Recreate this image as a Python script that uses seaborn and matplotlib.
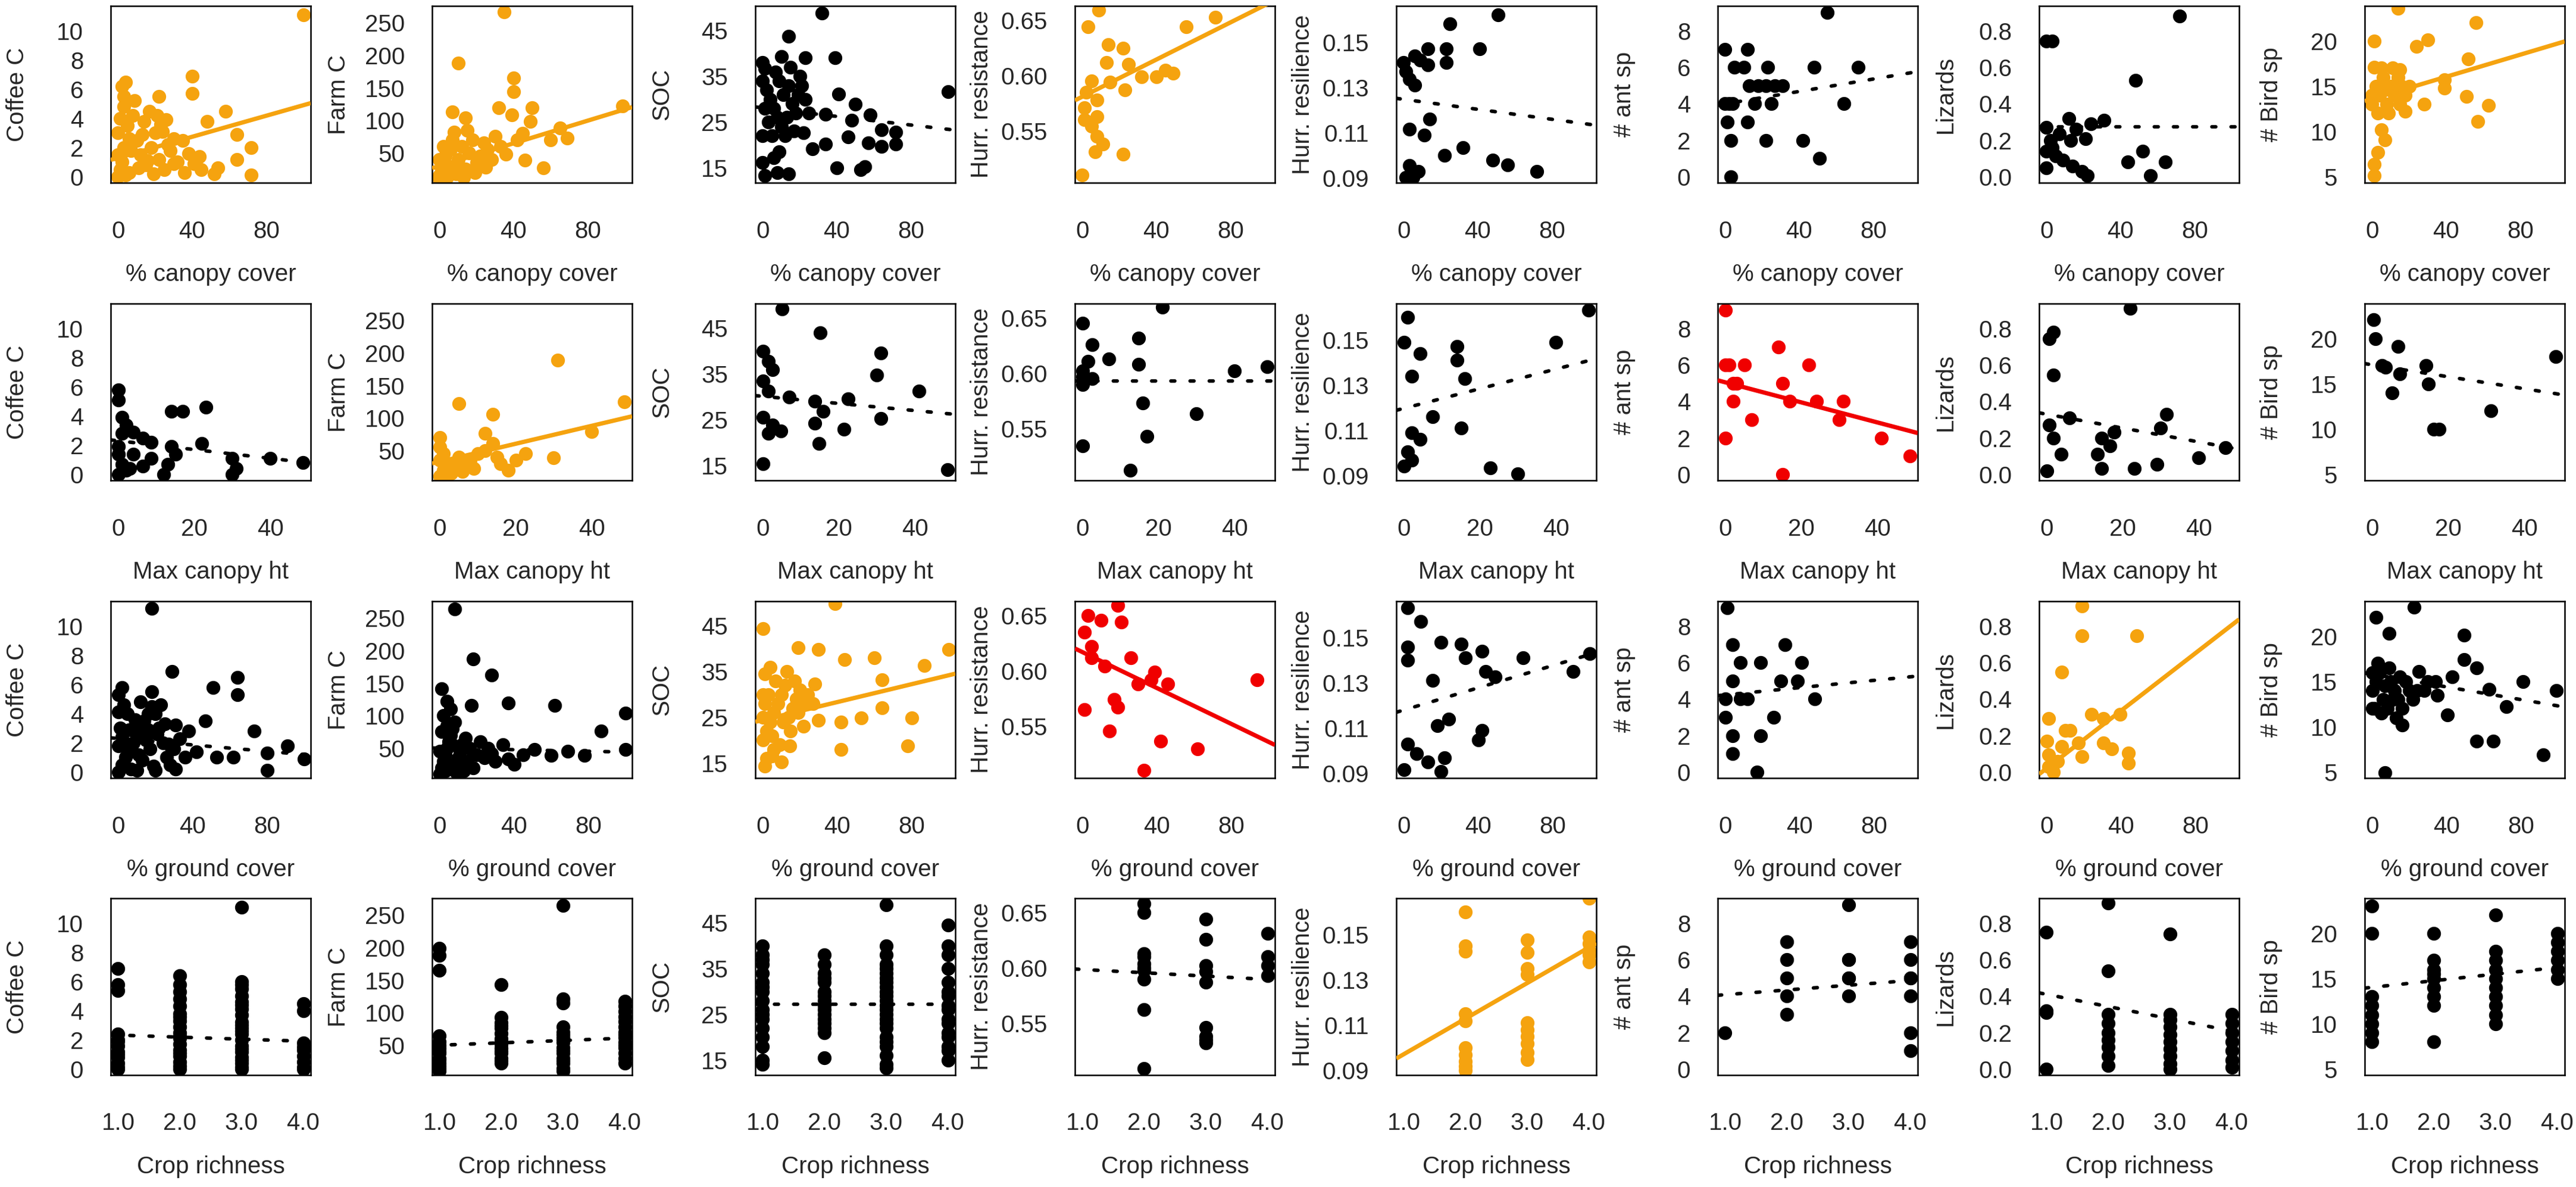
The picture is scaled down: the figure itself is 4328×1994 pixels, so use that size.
import numpy as np
import pandas as pd
import matplotlib
matplotlib.use('Agg')
import matplotlib.pyplot as plt
import seaborn as sns

sns.set_style('white')
plt.rcParams['font.family'] = ['Liberation Sans', 'DejaVu Sans']

# ---- data: (x, y) per panel ----
# row 1: % canopy cover
coffee_canopy = [(100, 11.1), (4, 6.5), (3, 5.5), (22, 5.5), (40, 6.9), (40, 5.7), (58, 4.5), (48, 3.8), (64, 2.9),
                 (72, 2.0), (64, 1.2), (72, 0.1), (52, 0.2), (54, 0.6), (41, 0.9), (35, 2.5), (26, 3.9), (24, 3.1),
                 (0, 0), (1, 0.5), (2, 1), (3, 2), (0, 3), (1, 4), (5, 3.5), (8, 4.2), (10, 2.5), (12, 1.5), (15, 0.8),
                 (6, 0.3), (18, 2), (20, 3), (22, 1.2), (25, 0.5), (28, 1.8), (30, 2.6), (14, 3.8), (17, 4.5), (9, 5.2),
                 (2, 6.2), (0, 1.5), (4, 0.1), (7, 1.8), (11, 0.6), (13, 2.9), (19, 0.2), (23, 3.6), (27, 2.2), (32, 1.0),
                 (36, 0.3), (44, 1.4), (45, 0.5), (16, 1.1), (3, 4.8), (6, 2.6), (21, 4.2), (30, 0.9), (38, 1.6)]
farm_canopy = [(35, 267), (10, 188), (40, 165), (40, 144), (32, 119), (50, 119), (7, 113), (14, 104), (39, 108),
               (49, 98), (8, 82), (56, 27), (46, 39), (60, 70), (69, 73), (99, 122), (65, 88),
               (0, 15), (1, 25), (2, 35), (3, 45), (5, 20), (6, 55), (8, 30), (10, 40), (12, 60), (14, 25), (16, 50),
               (18, 70), (20, 35), (22, 45), (24, 65), (26, 55), (28, 40), (30, 75), (0, 10), (4, 12), (9, 18),
               (13, 12), (19, 20), (25, 28), (33, 60), (36, 48), (42, 70), (45, 80), (15, 85), (2, 60), (0, 40), (7, 70)]
soc_canopy = [(32, 48.9), (14, 43.7), (39, 39.1), (23, 39.1), (10, 39.3), (1, 36.7), (100, 31.7), (41, 31.1),
              (50, 28.9), (58, 26.5), (34, 26.7), (48, 25.4), (64, 23.3), (72, 22.8), (72, 20.2), (64, 19.6),
              (57, 20.4), (46, 21.7), (34, 20.2), (27, 19.1), (22, 22.6), (40, 15.0), (53, 14.6), (55, 15.2),
              (14, 13.7), (8, 13.9), (1, 13.3), (0, 16.1), (6, 17.2), (9, 18.5),
              (0, 34), (2, 32), (4, 30), (6, 28), (8, 26), (10, 24), (12, 22), (14, 33), (16, 29), (18, 27), (20, 35),
              (3, 25), (5, 22), (7, 36), (11, 31), (15, 37), (19, 31), (23, 30), (1, 28), (9, 34), (13, 26), (17, 23),
              (21, 33), (25, 27), (0, 22), (0, 38)]
resist_canopy = [(9, 0.659), (3, 0.644), (56, 0.644), (72, 0.653), (14, 0.628), (22, 0.625), (13, 0.612), (25, 0.610),
                 (5, 0.595), (32, 0.599), (45, 0.605), (49, 0.602), (23, 0.587), (2, 0.585), (8, 0.578), (1, 0.571),
                 (8, 0.563), (8, 0.545), (11, 0.538), (22, 0.529), (7, 0.531), (0, 0.510), (1, 0.560), (5, 0.554),
                 (15, 0.594), (40, 0.599)]
resil_canopy = [(51, 0.162), (25, 0.158), (41, 0.147), (23, 0.147), (23, 0.141), (13, 0.147), (13, 0.140), (6, 0.144),
                (0, 0.141), (1, 0.137), (3, 0.1336), (6, 0.131), (9, 0.142), (14, 0.116), (11, 0.109), (3, 0.1116),
                (22, 0.100), (32, 0.1036), (48, 0.098), (56, 0.096), (72, 0.093), (3, 0.0957), (8, 0.093),
                (1, 0.0904), (5, 0.0904)]
ants_canopy = [(55, 9), (0, 7), (12, 7), (5, 6), (10, 6), (23, 6), (48, 6), (72, 6), (13, 5), (22, 5), (31, 5),
               (0, 4), (4, 4), (16, 4), (25, 4), (64, 4), (1, 3), (12, 3), (3, 2), (22, 2), (42, 2), (51, 1), (3, 0),
               (2, 4), (18, 5), (27, 5)]
lizards_canopy = [(72, 0.88), (0, 0.745), (3, 0.745), (48, 0.53), (12, 0.32), (31, 0.31), (24, 0.29), (13, 0.20),
                  (21, 0.21), (0, 0.27), (2, 0.20), (0, 0.14), (0, 0.05), (9, 0.09), (14, 0.06), (19, 0.03),
                  (22, 0.005), (52, 0.14), (44, 0.08), (64, 0.08), (56, 0.005), (5, 0.115), (16, 0.26), (3, 0.16),
                  (7, 0.235)]
birds_canopy = [(14, 23.6), (56, 22), (1, 20), (24, 19.4), (30, 20.1), (52, 18), (1, 17.1), (15, 16.8), (39, 15.7),
                (39, 14.8), (51, 13.9), (28, 13.0), (63, 12.9), (57, 11.1), (18, 12.2), (5, 10.2), (7, 9.1), (3, 7.7),
                (1, 5.1), (1, 6.4),
                (2, 15), (4, 14), (6, 16), (8, 13), (10, 15), (12, 14), (14, 16), (16, 15), (3, 12), (5, 17), (9, 12),
                (11, 17), (0, 13), (0, 14), (7, 15), (15, 13), (18, 14), (20, 15)]

# row 2: max canopy height
coffee_maxht = [(0, 5.8), (0, 5.1), (1, 3.9), (2, 3.4), (1, 2.8), (4, 2.9), (6.5, 2.5), (8.6, 2.2), (14, 4.3),
                (17, 4.3), (23, 4.6), (14, 1.9), (15, 1.4), (22, 2.1), (12, 0), (13, 0.7), (30, 1.1), (30, 0),
                (31, 0.4), (40, 1.1), (48.5, 0.8), (0, 1.4), (1, 0.7), (3, 0.4), (6.5, 0.55), (4, 1.4), (0, 1.9),
                (2, 0.3), (0, 0), (8.6, 1.1)]
farm_maxht = [(31, 189), (5, 122), (14, 106), (40, 79), (48.5, 125), (22.5, 45), (30, 39), (16, 30), (14, 61),
              (12, 76), (0, 10), (1, 20), (2, 30), (3, 15), (4, 25), (5, 40), (6, 18), (8, 35), (9, 22), (10, 45),
              (0, 55), (1, 45), (2, 12), (0, 35), (7, 28), (12, 50), (15, 40), (18, 20), (20, 35), (0, 70)]
soc_maxht = [(5, 49.2), (15, 44), (31, 39.6), (30, 34.7), (41, 31.2), (48.5, 14.1), (0, 40), (1.5, 37.8), (2.6, 36),
             (0, 33.4), (1.5, 31.2), (7, 29.9), (13.6, 29), (22.4, 29.5), (31, 25.3), (15.8, 26.8), (13.6, 24.2),
             (14.7, 19.8), (21.3, 22.9), (0, 25.5), (2.6, 23.8), (1.5, 22), (0, 15.4), (4.8, 22.5)]
resist_maxht = [(21, 0.660), (0, 0.645), (14.7, 0.632), (2.6, 0.626), (7, 0.613), (1.5, 0.611), (14.7, 0.608),
                (0, 0.602), (2.6, 0.595), (0, 0.590), (0, 0.597), (40, 0.602), (48.5, 0.606), (15.8, 0.573),
                (30, 0.5635), (17, 0.543), (0, 0.534), (12.5, 0.512)]
resil_maxht = [(48.5, 0.163), (1, 0.160), (0, 0.149), (4.3, 0.144), (14, 0.147), (14, 0.141), (16, 0.133), (2, 0.134),
               (40, 0.149), (7.6, 0.116), (15, 0.111), (2, 0.109), (4.3, 0.106), (1, 0.1005), (2, 0.097),
               (0, 0.0944), (22.7, 0.0935), (30, 0.091)]
ants_maxht = [(0, 9), (14, 7), (0, 6), (5, 6), (22, 6), (2, 5), (15, 5), (2, 4), (17, 4), (31, 4), (7, 3), (30, 3),
              (0, 2), (41, 2), (48.5, 1), (15, 0), (24, 4), (3, 5), (1, 6)]
lizards_maxht = [(22, 0.91), (1.7, 0.78), (0.6, 0.745), (1.7, 0.545), (6, 0.31), (0.6, 0.27), (1.7, 0.2),
                 (3.8, 0.11), (0, 0.02), (14.5, 0.2), (16.6, 0.155), (13.4, 0.11), (14.5, 0.033), (31.5, 0.33),
                 (30, 0.255), (23, 0.033), (29, 0.055), (40, 0.09), (47, 0.145), (17.7, 0.233)]
birds_maxht = [(0.3, 22.1), (0.8, 20), (6.7, 19.1), (2.6, 17), (7.2, 16.1), (5.2, 14), (14.2, 17), (14.7, 15),
               (16.2, 10), (17.5, 10), (31.2, 12), (48.2, 18), (3.5, 16.8)]

# row 3: % ground cover
coffee_ground = [(18, 11.2), (29, 6.9), (18, 5.5), (64, 6.5), (64, 5.3), (51, 5.8), (2, 5.8), (0, 5.3), (47, 3.5),
                 (31, 3.2), (38, 2.8), (73, 2.8), (91, 1.8), (80, 1.3), (100, 0.9), (53, 1.0), (62, 1.0), (42, 1.4),
                 (80, 0.14), (31, 0.2),
                 (0, 0), (2, 0.5), (4, 1), (6, 1.5), (8, 2), (10, 2.5), (12, 3), (14, 3.5), (16, 4), (18, 4.5), (20, 4),
                 (22, 3), (24, 2), (26, 1), (28, 0.5), (1, 3), (3, 2), (5, 4), (7, 0.2), (9, 3.6), (11, 1.2), (13, 0.8),
                 (15, 2.2), (17, 1.6), (19, 0.4), (21, 2.6), (23, 4.6), (25, 3.3), (27, 1.9), (0, 1.8), (0, 4.1),
                 (3, 4.6), (6, 2.9), (12, 4.8), (20, 0.1), (30, 1.6), (33, 2.3), (36, 1.0), (2, 2.4), (10, 0.1), (16, 2.9)]
farm_ground = [(8, 264), (18, 187), (28, 162), (37, 119), (62, 116), (17, 116), (1, 141), (100, 104), (87, 76),
               (4, 122), (100, 48), (69, 45), (78, 39), (51, 48), (60, 39), (37, 33), (28, 42),
               (0, 10), (1, 20), (2, 30), (3, 40), (4, 50), (5, 60), (6, 70), (7, 80), (8, 90), (9, 25), (10, 35),
               (11, 45), (12, 55), (13, 15), (14, 65), (15, 30), (16, 50), (18, 20), (20, 40), (22, 60), (24, 35),
               (0, 45), (1, 75), (2, 100), (3, 15), (5, 25), (7, 55), (9, 12), (12, 30), (6, 110), (4, 85), (26, 50),
               (30, 30), (34, 55), (40, 25), (45, 40)]
soc_ground = [(39, 49.9), (0, 44.4), (19, 40.2), (30, 39.8), (60, 38), (44, 37.6), (100, 39.8), (87, 36.3),
              (64, 33.2), (1, 34.5), (28, 32.3), (80, 24.9), (64, 27.1), (53, 24.9), (42, 24), (30, 24.4), (42, 17.9),
              (78, 18.7), (14.5, 18.7), (10, 15.2), (1, 14.3), (5, 16.5),
              (0, 20), (2, 22), (4, 24), (6, 26), (8, 28), (10, 30), (12, 32), (14, 25), (16, 27), (18, 29), (20, 31),
              (22, 23), (1, 28), (3, 30), (5, 21), (7, 33), (9, 19), (11, 24), (13, 35), (15, 22), (17, 33), (19, 26),
              (21, 28), (24, 30), (0, 25), (0, 30), (6, 18), (2, 16), (4, 36), (27, 28)]
resist_ground = [(19, 0.659), (10, 0.6455), (21, 0.644), (3, 0.65), (1, 0.635), (5, 0.622), (5, 0.6116), (12, 0.6045),
                 (26, 0.6116), (39, 0.599), (46, 0.588), (37, 0.592), (30, 0.588), (17, 0.574), (19, 0.567),
                 (1, 0.565), (94, 0.592), (14.5, 0.5455), (42, 0.5366), (62, 0.5295), (33, 0.51)]
resil_ground = [(2, 0.163), (9, 0.157), (2, 0.1457), (2, 0.140), (20, 0.148), (31, 0.147), (33, 0.141), (42, 0.144),
                (44, 0.135), (49, 0.1326), (64, 0.141), (91, 0.135), (100, 0.143), (15.5, 0.131), (24, 0.114),
                (18, 0.111), (42, 0.109), (40, 0.1048), (2, 0.103), (7, 0.0987), (13, 0.0952), (22, 0.097),
                (0, 0.0917), (20, 0.0909)]
ants_ground = [(1, 9), (4, 7), (32, 7), (8, 6), (19, 6), (41, 6), (4, 5), (30, 5), (39, 5), (0, 4), (8, 4), (12, 4),
               (48, 4), (26, 3), (0, 3), (4, 2), (19, 2), (4, 1), (17, 0)]
lizards_ground = [(19, 0.91), (19, 0.746), (48.5, 0.746), (8, 0.547), (1, 0.293), (10, 0.227), (24, 0.315),
                  (30.5, 0.293), (39.5, 0.315), (0, 0.17), (17, 0.16), (30.5, 0.16), (35, 0.127), (44, 0.105),
                  (19, 0.083), (44, 0.05), (1, 0.028), (6, 0.06), (1, 0.094), (12.6, 0.227), (3.6, 0), (8, 0.14)]
birds_ground = [(22.5, 23.2), (2, 22.1), (9, 20.3), (49.5, 20.1), (49.5, 17.4), (56, 16.5), (25, 16.1), (34, 15),
                (43, 15.5), (63, 14.1), (81, 15), (99, 14), (72, 12.2), (40.5, 11.3), (16, 10.2), (56, 8.4), (65, 8.4),
                (92, 6.9), (7, 4.9),
                (0, 14), (2, 15), (4, 16), (6, 13), (8, 12), (10, 15), (12, 14), (14, 13), (16, 12), (18, 15), (20, 14),
                (1, 12), (3, 17), (5, 11.5), (7, 14.5), (9, 16.5), (11, 13), (13, 11), (15, 15.5), (22, 13), (24, 14),
                (0, 16), (0, 12), (28, 14), (30, 15), (35, 13.5)]

# row 4: crop richness (values per richness level)
coffee_crop = {1: [6.9, 5.8, 5.4, 2.4, 2.0, 1.6, 1.2, 0.8, 0.4, 0.1, 0.0, 1.0, 1.9],
               2: [6.4, 5.8, 5.3, 4.8, 4.3, 3.8, 3.3, 2.9, 2.5, 2.1, 1.7, 1.3, 0.9, 0.5, 0.2, 0.0, 3.6, 2.3, 1.1],
               3: [11.1, 6.0, 5.5, 5.0, 4.6, 4.1, 3.7, 3.2, 2.8, 2.4, 2.0, 1.6, 1.2, 0.8, 0.4, 0.1, 0.0, 5.8, 3.0,
                   1.4, 0.6, 2.6, 4.4],
               4: [4.5, 4.0, 1.8, 1.3, 0.9, 0.5, 0.1, 0.0, 1.5]}
farm_crop = {1: [199, 188, 165, 64, 55, 45, 38, 30, 22, 14, 50, 40, 28, 18, 10],
             2: [143, 93, 85, 76, 68, 60, 52, 45, 38, 30, 22, 80, 56, 41, 26],
             3: [265, 115, 121, 78, 70, 62, 54, 46, 38, 30, 22, 14, 10, 58, 42, 26, 66],
             4: [118, 110, 102, 94, 86, 78, 70, 62, 54, 46, 38, 30, 22, 66, 50]}
soc_crop = {1: [40, 38, 36, 34, 32, 30, 28, 26, 24, 22, 20, 18, 15, 14, 37, 31, 25],
            2: [38, 36, 34, 32, 30, 28, 26, 24, 22, 21, 15.5, 29, 27, 25, 23, 33],
            3: [49, 40, 38, 36, 34, 32, 30, 28, 26, 24, 22, 20, 18, 16, 14, 13.3, 35, 31, 27, 23, 19, 29, 25, 33],
            4: [44.5, 40, 38, 35, 32, 29, 26, 23, 20, 17, 15, 30, 27, 24, 21, 18]}
resist_crop = {2: [0.658, 0.65, 0.613, 0.604, 0.598, 0.59, 0.562, 0.509, 0.61, 0.6],
               3: [0.644, 0.626, 0.602, 0.597, 0.587, 0.546, 0.538, 0.535, 0.532],
               4: [0.631, 0.61, 0.602, 0.593]}
resil_crop = {2: [0.16, 0.145, 0.1425, 0.115, 0.1, 0.097, 0.094, 0.092, 0.09, 0.112],
              3: [0.1475, 0.142, 0.135, 0.1325, 0.111, 0.108, 0.105, 0.0948, 0.1018, 0.098],
              4: [0.166, 0.149, 0.146, 0.143, 0.141, 0.138]}
ants_crop = {1: [2], 2: [7, 6, 4, 3, 5], 3: [9, 6, 5, 5, 4, 6], 4: [7, 6, 5, 4, 2, 1, 5]}
lizards_crop = {1: [0.75, 0.32, 0.0, 0.31],
                2: [0.91, 0.54, 0.3, 0.25, 0.2, 0.16, 0.12, 0.07, 0.02],
                3: [0.74, 0.3, 0.27, 0.23, 0.19, 0.15, 0.11, 0.07, 0.03, 0.0],
                4: [0.3, 0.25, 0.2, 0.15, 0.1, 0.05, 0.01]}
birds_crop = {1: [23, 20, 13, 12, 11, 10, 9, 8],
              2: [20, 17, 16, 15, 14, 13, 12, 8, 15.5],
              3: [22, 18, 17, 16, 15, 14, 13, 12, 11, 10],
              4: [20, 19, 18, 17, 16, 15]}

# fitted lines as drawn in the figure (intercept, slope), one list per row
fit_canopy = [(1.3, 0.036), (29.9, 0.87), (28.1, -0.047), (0.5809, 0.00084), (0.1248, -0.00011), (4.0, 0.017),
              (0.274, 0.0), (13.6, 0.061)]
fit_maxht = [(2.3, -0.03), (32.8, 1.38), (30.1, -0.078), (0.593, 0.0), (0.1198, 0.000433), (5.05, -0.055),
             (0.33, -0.0038), (17.1, -0.066)]
fit_ground = [(2.3, -0.011), (50, -0.06), (24.4, 0.098), (0.617, -0.000812), (0.118, 0.000245), (4.23, 0.010),
              (0.02, 0.0079), (15.8, -0.035)]
fit_crop = [(2.47, -0.14), (46.4, 3.6), (27.2, 0.0), (0.6016, -0.003), (0.0815, 0.0157), (3.82, 0.26),
            (0.477, -0.067), (13.3, 0.73)]

x_labels = ['% canopy cover', 'Max canopy ht', '% ground cover', 'Crop richness']
y_labels = ['Coffee C', 'Farm C', 'SOC', 'Hurr. resistance', 'Hurr. resilience', '# ant sp', 'Lizards', '# Bird sp']

# fit colour: orange = positive significant, red = negative significant, black = n.s.
fit_colors = [['orange', 'orange', 'black', 'orange', 'black', 'black', 'black', 'orange'],
              ['black', 'orange', 'black', 'black', 'black', 'red', 'black', 'black'],
              ['black', 'black', 'orange', 'red', 'black', 'black', 'orange', 'black'],
              ['black', 'black', 'black', 'black', 'orange', 'black', 'black', 'black']]
palette = {'orange': '#F5A30F', 'red': '#F00000', 'black': '#000000'}


def crop_pairs(d):
    return [(k, v) for k, vals in d.items() for v in vals]


panels = [
    [coffee_canopy, farm_canopy, soc_canopy, resist_canopy, resil_canopy, ants_canopy, lizards_canopy, birds_canopy],
    [coffee_maxht, farm_maxht, soc_maxht, resist_maxht, resil_maxht, ants_maxht, lizards_maxht, birds_maxht],
    [coffee_ground, farm_ground, soc_ground, resist_ground, resil_ground, ants_ground, lizards_ground, birds_ground],
    [crop_pairs(d) for d in [coffee_crop, farm_crop, soc_crop, resist_crop, resil_crop, ants_crop, lizards_crop,
                             birds_crop]],
]
fits = [fit_canopy, fit_maxht, fit_ground, fit_crop]

# axis setup
x_lims = [(-4, 104), (-2, 50.6), (-4, 103.5), (0.88, 4.12)]
x_ticks = [np.arange(0, 101, 20), np.arange(0, 51, 10), np.arange(0, 101, 20), np.arange(1, 4.01, 0.5)]
x_ticklabels = [['0', '', '40', '', '80', ''], ['0', '', '20', '', '40', ''], ['0', '', '40', '', '80', ''],
                ['1.0', '', '2.0', '', '3.0', '', '4.0']]

y_lims = [(-0.41, 11.7), (4, 276), (11.7, 50.4), (0.503, 0.663), (0.088, 0.166), (-0.33, 9.37), (-0.033, 0.937),
          (4.34, 23.86)]
y_ticks = [np.arange(0, 11, 2), np.arange(50, 251, 50), np.arange(15, 51, 5), [0.55, 0.60, 0.65],
           np.arange(0.09, 0.1601, 0.01), np.arange(0, 9, 2), np.arange(0, 0.81, 0.2), [5, 10, 15, 20]]
y_ticklabels = [['0', '2', '4', '6', '8', '10'], ['50', '100', '150', '200', '250'],
                ['15', '', '25', '', '35', '', '45', ''], ['0.55', '0.60', '0.65'],
                ['0.09', '', '0.11', '', '0.13', '', '0.15', ''], ['0', '2', '4', '6', '8'],
                ['0.0', '0.2', '0.4', '0.6', '0.8'], ['5', '10', '15', '20']]

W, H = 4328, 1994
lefts = [186, 726, 1269, 1806, 2346, 2886, 3426, 3973]
tops = [10, 510, 1010, 1509]
aw, ah = 336, 297
text_col = '#262626'
fs = 29

fig = plt.figure(figsize=(W / 100, H / 100), dpi=100)

for r in range(4):
    for c in range(8):
        ax = fig.add_axes([lefts[c] / W, 1 - (tops[r] + ah) / H, aw / W, ah / H])
        df = pd.DataFrame(panels[r][c], columns=['x', 'y'])
        col = palette[fit_colors[r][c]]
        sns.scatterplot(data=df, x='x', y='y', ax=ax, color=col, s=280, linewidth=0, alpha=1, zorder=2)

        a, b = fits[r][c]
        line = pd.DataFrame({'x': np.array(x_lims[r])})
        line['y'] = a + b * line['x']
        if fit_colors[r][c] == 'black':
            lk = dict(lw=4.3, linestyle=(0, (1.1, 4.3)), dash_capstyle='round')
        else:
            lk = dict(lw=5.2, solid_capstyle='butt')
        sns.lineplot(data=line, x='x', y='y', ax=ax, color=col, zorder=3, **lk)

        ax.set_xlim(x_lims[r])
        ax.set_ylim(y_lims[c])
        ax.set_xticks(x_ticks[r])
        ax.set_xticklabels(x_ticklabels[r])
        ax.set_yticks(y_ticks[c])
        ax.set_yticklabels(y_ticklabels[c])
        ax.tick_params(axis='both', direction='out', length=19, width=1.8, labelsize=fs,
                       color='black', labelcolor=text_col)
        ax.tick_params(axis='x', pad=26)
        ax.tick_params(axis='y', pad=14)
        for sp in ax.spines.values():
            sp.set_visible(True)
            sp.set_linewidth(1.8)
            sp.set_color('black')
        ax.set_xlabel(x_labels[r], fontsize=fs, color=text_col)
        ax.set_ylabel(y_labels[c], fontsize=fs, color=text_col)
        ax.xaxis.set_label_coords(0.5, -135 / ah)
        ax.yaxis.set_label_coords(-138 / aw, 0.5)

fig.savefig('out.png', dpi=100)
